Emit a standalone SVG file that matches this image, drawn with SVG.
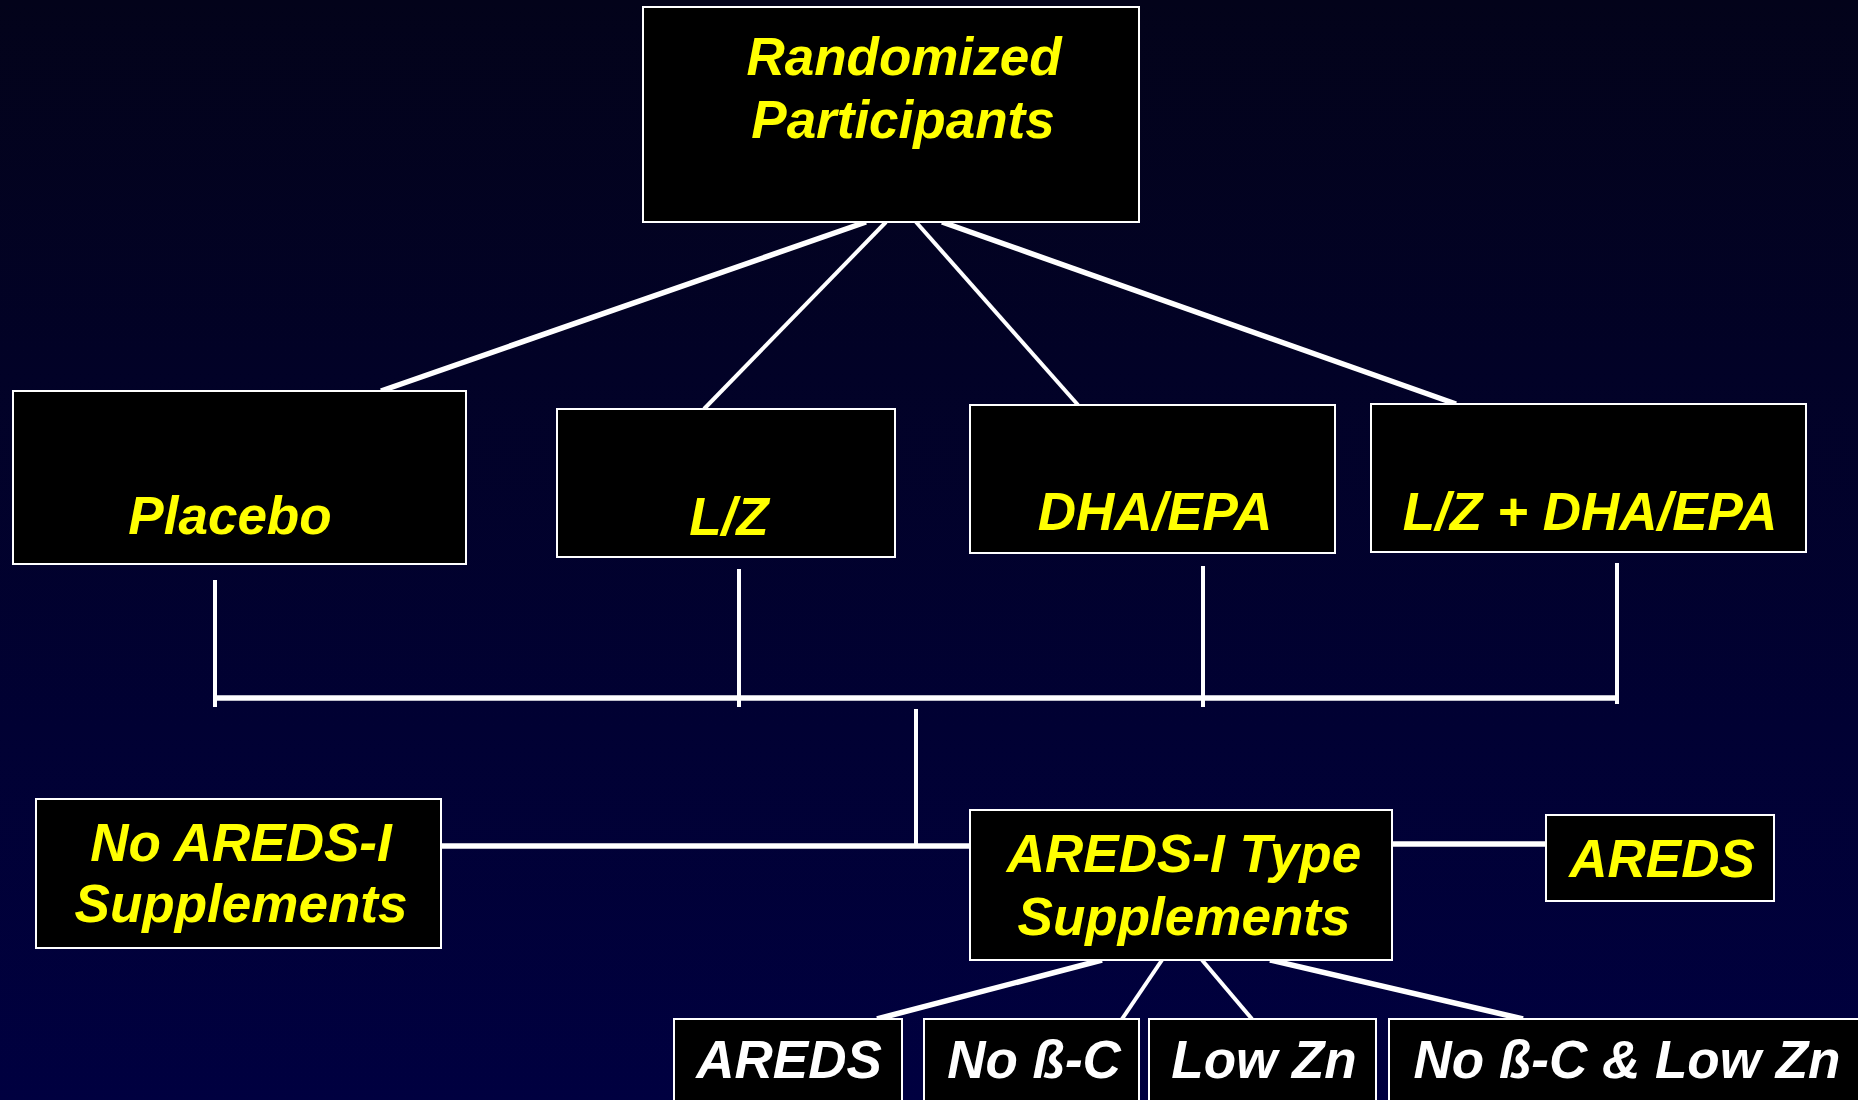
<svg xmlns="http://www.w3.org/2000/svg" width="1858" height="1100" viewBox="0 0 1858 1100">
<defs>
<linearGradient id="bg" x1="0" y1="0" x2="0" y2="1">
<stop offset="0" stop-color="#03031a"/>
<stop offset="1" stop-color="#000040"/>
</linearGradient>
<style>
.box{fill:#000;stroke:#fff;stroke-width:2}
.t{font-family:"Liberation Sans",Arial,sans-serif;font-weight:bold;font-style:italic;font-size:53px;fill:#ffff00;text-anchor:middle}
.w{fill:#fff}
.c{stroke:#fff;fill:none;stroke-width:4}
.ct{stroke:#fff;fill:none;stroke-width:5.5}
</style>
</defs>
<rect width="1858" height="1100" fill="url(#bg)"/>
<g id="connectors">
<line class="ct" x1="866" y1="222" x2="381" y2="391"/>
<line class="c" x1="886" y1="222" x2="704" y2="409"/>
<line class="c" x1="916" y1="222" x2="1078" y2="405"/>
<line class="ct" x1="942" y1="222" x2="1456" y2="404"/>
<line class="c" x1="215" y1="580" x2="215" y2="707"/>
<line class="c" x1="739" y1="569" x2="739" y2="707"/>
<line class="c" x1="1203" y1="566" x2="1203" y2="707"/>
<line class="c" x1="1617" y1="563" x2="1617" y2="704"/>
<line class="ct" x1="215" y1="698" x2="1619" y2="698"/>
<line class="c" x1="916" y1="709" x2="916" y2="847"/>
<line class="ct" x1="441" y1="846" x2="970" y2="846"/>
<line class="ct" x1="1392" y1="844" x2="1546" y2="844"/>
<line class="ct" x1="1102" y1="960" x2="877" y2="1019"/>
<line class="c" x1="1162" y1="960" x2="1122" y2="1019"/>
<line class="c" x1="1202" y1="960" x2="1252" y2="1019"/>
<line class="ct" x1="1270" y1="960" x2="1523" y2="1019"/>
</g>
<g id="randomized">
<rect class="box" x="643" y="7" width="496" height="215"/>
<text class="t" x="904" y="75">Randomized</text>
<text class="t" x="903" y="138">Participants</text>
</g>
<g id="placebo">
<rect class="box" x="13" y="391" width="453" height="173"/>
<text class="t" x="230" y="534">Placebo</text>
</g>
<g id="lz">
<rect class="box" x="557" y="409" width="338" height="148"/>
<text class="t" x="729" y="535">L/Z</text>
</g>
<g id="dhaepa">
<rect class="box" x="970" y="405" width="365" height="148"/>
<text class="t" x="1155" y="530">DHA/EPA</text>
</g>
<g id="lzdhaepa">
<rect class="box" x="1371" y="404" width="435" height="148"/>
<text class="t" x="1590" y="530">L/Z + DHA/EPA</text>
</g>
<g id="noareds">
<rect class="box" x="36" y="799" width="405" height="149"/>
<text class="t" x="241" y="861">No AREDS-I</text>
<text class="t" x="241" y="922">Supplements</text>
</g>
<g id="aredstype">
<rect class="box" x="970" y="810" width="422" height="150"/>
<text class="t" x="1184" y="872">AREDS-I Type</text>
<text class="t" x="1184" y="935">Supplements</text>
</g>
<g id="areds-right">
<rect class="box" x="1546" y="815" width="228" height="86"/>
<text class="t" x="1662" y="877">AREDS</text>
</g>
<g id="areds-bottom">
<rect class="box" x="674" y="1019" width="228" height="100"/>
<text class="t w" x="789" y="1078">AREDS</text>
</g>
<g id="nobc">
<rect class="box" x="924" y="1019" width="215" height="100"/>
<text class="t w" x="1034" y="1078">No ß-C</text>
</g>
<g id="lowzn">
<rect class="box" x="1149" y="1019" width="227" height="100"/>
<text class="t w" x="1264" y="1078">Low Zn</text>
</g>
<g id="nobc-lowzn">
<rect class="box" x="1389" y="1019" width="480" height="100"/>
<text class="t w" x="1627" y="1078">No ß-C &amp; Low Zn</text>
</g>
</svg>
